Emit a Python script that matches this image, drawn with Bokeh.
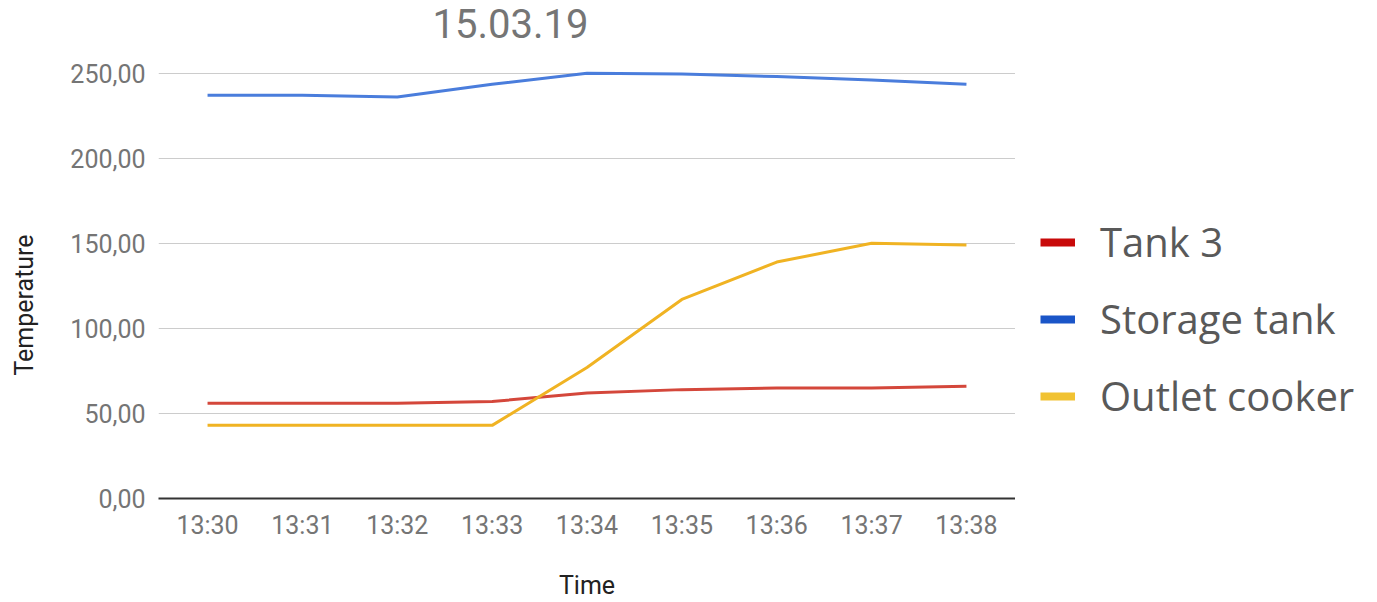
import math
from bokeh.plotting import figure
from bokeh.models import Legend, LegendItem, FixedTicker, Range1d, Label
from bokeh.layouts import row
from bokeh.embed import file_html
from bokeh.resources import INLINE

# ---- data ----
title_text = "15.03.19"
times = ["13:30", "13:31", "13:32", "13:33", "13:34", "13:35", "13:36", "13:37", "13:38"]
tank3 = [56, 56, 56, 57, 62, 64, 65, 65, 66]
storage_tank = [237, 237, 236, 243.5, 250, 249.5, 248, 246, 243.5]
outlet_cooker = [43, 43, 43, 43, 77, 117, 139, 150, 149]
series_names = ["Tank 3", "Storage tank", "Outlet cooker"]
y_ticks = [0, 50, 100, 150, 200, 250]
y_tick_labels = ["0,00", "50,00", "100,00", "150,00", "200,00", "250,00"]
x_label = "Time"
y_label = "Temperature"

line_colors = ["#d4473b", "#4a7ddc", "#f0b323"]
legend_colors = ["#c80a0a", "#1a55c8", "#f1c232"]

x = list(range(len(times)))
nan = float("nan")

# ---- layout constants ----
H = 602
FRAME_LEFT = 158
FRAME_BOTTOM = 500
TOP_OF_SCALE = 73
LEFT_STRIP = 60
y_max = max(y_ticks) * FRAME_BOTTOM / (FRAME_BOTTOM - TOP_OF_SCALE)

# left strip holding the rotated y-axis title (its frame is aligned with the main frame)
lf = figure(width=LEFT_STRIP, height=H, output_backend="svg", toolbar_location=None,
            x_range=Range1d(0, 1), y_range=Range1d(0, 1), x_axis_type=None, y_axis_type=None,
            min_border=0)
lf.outline_line_color = None
lf.xgrid.grid_line_color = None
lf.ygrid.grid_line_color = None
lf.add_layout(Label(x=24, y=FRAME_BOTTOM - 306.5, x_units="screen", y_units="screen", text=y_label,
                    angle=math.pi / 2, text_font="Roboto", text_font_size="25px",
                    text_color="#222222", text_align="center", text_baseline="middle"))

p = figure(width=1015 - LEFT_STRIP, height=H, output_backend="svg", toolbar_location=None,
           x_range=(-0.517, len(times) - 1 + 0.517), y_range=(0, y_max),
           min_border_left=FRAME_LEFT - LEFT_STRIP, min_border_right=0, min_border_top=0,
           min_border_bottom=H - FRAME_BOTTOM)
p.outline_line_color = None
p.background_fill_color = "white"

p.line(x, tank3, line_color=line_colors[0], line_width=3)
p.line(x, storage_tank, line_color=line_colors[1], line_width=3)
p.line(x, outlet_cooker, line_color=line_colors[2], line_width=3)

# grid
p.xgrid.grid_line_color = None
p.ygrid.grid_line_color = "#cccccc"
p.ygrid.grid_line_width = 1

# y axis
p.yaxis.ticker = FixedTicker(ticks=y_ticks)
p.yaxis.major_label_overrides = dict(zip(y_ticks, y_tick_labels))
p.yaxis.axis_line_color = None
p.yaxis.major_tick_line_color = None
p.yaxis.minor_tick_line_color = None
p.yaxis.major_label_standoff = 7
p.yaxis.major_label_text_font = "Roboto"
p.yaxis.major_label_text_font_size = "25px"
p.yaxis.major_label_text_color = "#757575"

# x axis
p.xaxis.ticker = FixedTicker(ticks=x)
p.xaxis.major_label_overrides = dict(zip(x, times))
p.xaxis.axis_line_color = "#333333"
p.xaxis.axis_line_width = 2
p.xaxis.major_tick_line_color = None
p.xaxis.minor_tick_line_color = None
p.xaxis.major_label_standoff = 6
p.xaxis.major_label_text_font = "Roboto"
p.xaxis.major_label_text_font_size = "25px"
p.xaxis.major_label_text_color = "#757575"
p.xaxis.axis_label = x_label
p.xaxis.axis_label_text_font = "Roboto"
p.xaxis.axis_label_text_font_size = "25px"
p.xaxis.axis_label_text_font_style = "normal"
p.xaxis.axis_label_text_color = "#222222"
p.xaxis.axis_label_standoff = 28

# title (inside the tall frame, above the 250 line)
p.add_layout(Label(x=432 - FRAME_LEFT, y=FRAME_BOTTOM - 25, x_units="screen", y_units="screen",
                   text=title_text, text_font="Roboto", text_font_size="40px",
                   text_color="#757575", text_align="left", text_baseline="middle"))

# legend panel (separate figure so the legend is not clipped)
lg = figure(width=354, height=H, output_backend="svg", toolbar_location=None,
            x_range=Range1d(0, 1), y_range=Range1d(0, 1), x_axis_type=None, y_axis_type=None,
            min_border=0)
lg.outline_line_color = None
lg.xgrid.grid_line_color = None
lg.ygrid.grid_line_color = None
sw = [lg.line([nan], [nan], line_color=c, line_width=8) for c in legend_colors]
legend = Legend(items=[LegendItem(label=n, renderers=[s]) for n, s in zip(series_names, sw)],
                location=(25, 75), orientation="vertical",
                label_text_font="Open Sans", label_text_font_size="40px",
                label_text_color="#595959", glyph_width=35, glyph_height=40,
                label_height=40, label_standoff=25, spacing=22,
                padding=0, margin=0, border_line_color=None, background_fill_alpha=0)
lg.add_layout(legend, "center")

layout = row(lf, p, lg)
open("out.html", "w").write(file_html(layout, INLINE))
